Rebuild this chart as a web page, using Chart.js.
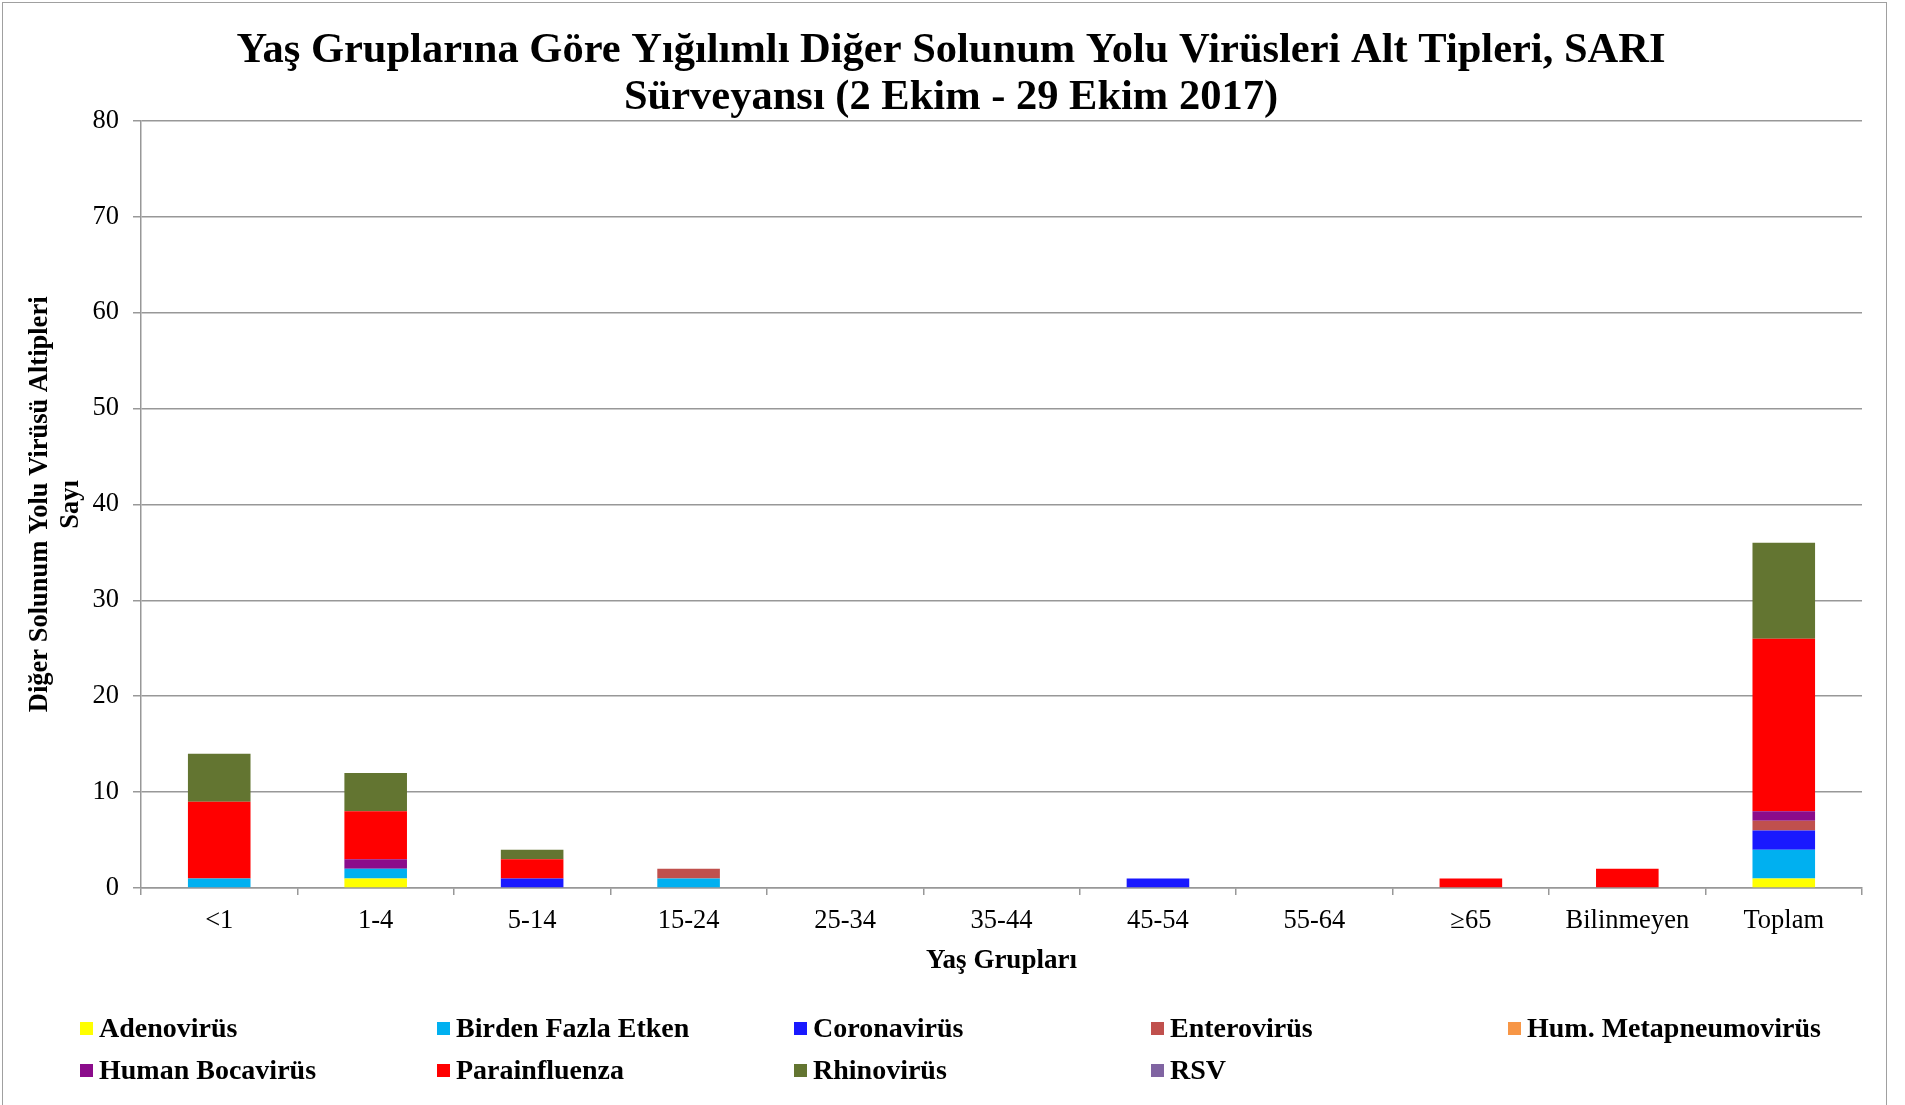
<!DOCTYPE html>
<html>
<head>
<meta charset="utf-8">
<script src="https://cdn.jsdelivr.net/npm/chart.js@4.4.1/dist/chart.umd.min.js"></script>
<style>
  html, body { margin: 0; padding: 0; background: #fff; overflow: hidden; }
  #wrap { position: relative; width: 1905px; height: 1105px; }
  #frame { position: absolute; left: 2px; top: 2px; width: 1883px; height: 1200px; border: 1.5px solid #a0a0a0; pointer-events: none; }
  #legend { position: absolute; left: 80px; top: 1010px; display: grid; grid-template-columns: repeat(5, 357px); row-gap: 6px;
            font-family: 'Liberation Serif', 'Times New Roman', serif; font-weight: bold; font-size: 28px; color: #000; }
  #legend div { display: flex; align-items: center; height: 36px; white-space: nowrap; }
  #legend span.box { display: inline-block; width: 13px; height: 13px; margin-right: 6px; }
</style>
</head>
<body>
<div id="wrap">
  <canvas id="virusChart" width="1905" height="1105"></canvas>
  <div id="frame"></div>
  <div id="legend"></div>
</div>
<script>
// age groups and counts per virus subtype
const ageGroups = ['<1', '1-4', '5-14', '15-24', '25-34', '35-44', '45-54', '55-64', '≥65', 'Bilinmeyen', 'Toplam'];
const adenovirus   = [0, 1, 0, 0, 0, 0, 0, 0, 0, 0, 1];
const birdenFazla  = [1, 1, 0, 1, 0, 0, 0, 0, 0, 0, 3];
const coronavirus  = [0, 0, 1, 0, 0, 0, 1, 0, 0, 0, 2];
const enterovirus  = [0, 0, 0, 1, 0, 0, 0, 0, 0, 0, 1];
const metapneumo   = [0, 0, 0, 0, 0, 0, 0, 0, 0, 0, 0];
const bocavirus    = [0, 1, 0, 0, 0, 0, 0, 0, 0, 0, 1];
const parainfluenza = [8, 5, 2, 0, 0, 0, 0, 0, 1, 2, 18];
const rhinovirus   = [5, 4, 1, 0, 0, 0, 0, 0, 0, 0, 10];
const rsv          = [0, 0, 0, 0, 0, 0, 0, 0, 0, 0, 0];
const yTicks = [0, 10, 20, 30, 40, 50, 60, 70, 80];

const serif = "'Liberation Serif', 'Times New Roman', serif";
const gridGray = '#989898';

function ds(label, data, color) {
    return { label: label, data: data, backgroundColor: color, borderWidth: 0,
             barPercentage: 0.4, categoryPercentage: 1.0 };
}

const ctx = document.getElementById('virusChart').getContext('2d');
const chart = new Chart(ctx, {
    type: 'bar',
    data: {
        labels: ageGroups,
        datasets: [
            ds('Adenovirüs', adenovirus, '#FFFF00'),
            ds('Birden Fazla Etken', birdenFazla, '#00B0F0'),
            ds('Coronavirüs', coronavirus, '#1919FF'),
            ds('Enterovirüs', enterovirus, '#C0504D'),
            ds('Hum. Metapneumovirüs', metapneumo, '#F79646'),
            ds('Human Bocavirüs', bocavirus, '#8B0C8B'),
            ds('Parainfluenza', parainfluenza, '#FF0000'),
            ds('Rhinovirüs', rhinovirus, '#637531'),
            ds('RSV', rsv, '#8064A2')
        ]
    },
    options: {
        responsive: false,
        animation: false,
        // left padding keeps the title centred on the whole picture
        layout: { padding: { top: 0, left: 40, right: 43, bottom: 124 } },
        plugins: {
            legend: { display: false },
            tooltip: { enabled: false },
            title: {
                display: true,
                text: ['Yaş Gruplarına Göre Yığılımlı Diğer Solunum Yolu Virüsleri Alt Tipleri, SARI',
                       'Sürveyansı (2 Ekim - 29 Ekim 2017)'],
                color: '#000',
                font: { family: serif, size: 42.5, weight: 'bold', lineHeight: 1.12 },
                padding: { top: 27, bottom: -1.5 }
            }
        },
        scales: {
            x: {
                stacked: true,
                afterFit: function(scale) { scale.height = 93; },
                grid: {
                    offset: true,
                    drawOnChartArea: false,
                    drawTicks: true,
                    tickLength: 7,
                    lineWidth: 1.5,
                    color: gridGray
                },
                border: { display: true, color: gridGray, width: 1.5 },
                ticks: {
                    color: '#000',
                    padding: 10,
                    maxRotation: 0,
                    autoSkip: false,
                    font: { family: serif, size: 26.5 }
                },
                title: {
                    display: true,
                    text: 'Yaş Grupları',
                    color: '#000',
                    font: { family: serif, size: 27, weight: 'bold' }
                }
            },
            y: {
                stacked: true,
                min: 0,
                max: 80,
                afterFit: function(scale) { scale.width = 101; },
                afterBuildTicks: function(scale) {
                    scale.ticks = yTicks.map(v => ({ value: v }));
                },
                grid: {
                    drawTicks: true,
                    tickLength: 8,
                    lineWidth: 1.5,
                    color: gridGray
                },
                border: { display: true, color: gridGray, width: 1.5 },
                ticks: {
                    color: '#000',
                    padding: 14,
                    font: { family: serif, size: 26.5 }
                },
                title: {
                    display: true,
                    text: ['Diğer Solunum Yolu Virüsü Altipleri', 'Sayı'],
                    color: '#000',
                    padding: { top: -15, bottom: 4 },
                    font: { family: serif, size: 26.5, weight: 'bold', lineHeight: 1.15 }
                }
            }
        }
    }
});

// legend laid out in fixed columns like the original
const legendEl = document.getElementById('legend');
chart.options.plugins.legend.labels.generateLabels(chart).forEach(function(item) {
    const row = document.createElement('div');
    const box = document.createElement('span');
    box.className = 'box';
    box.style.background = item.fillStyle;
    row.appendChild(box);
    row.appendChild(document.createTextNode(item.text));
    legendEl.appendChild(row);
});
</script>
</body>
</html>
